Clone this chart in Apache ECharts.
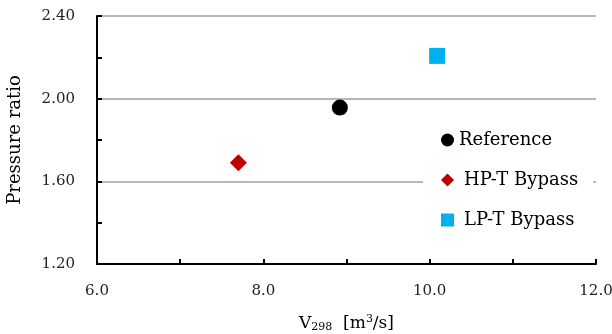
<!DOCTYPE html>
<html>
<head>
<meta charset="utf-8">
<script src="https://cdn.jsdelivr.net/npm/echarts@6/dist/echarts.min.js"></script>
<style>
  html, body {margin: 0; padding: 0; background: #fff;}
  #chart {width: 612px; height: 334px;}
</style>
</head>
<body>
<div id="chart"></div>
<script>
  const seriesNames = ['Reference', 'HP-T Bypass', 'LP-T Bypass'];
  const flowValues = [8.92, 7.70, 10.09];
  const pressureValues = [1.957, 1.69, 2.207];
  const xTicks = [6.0, 8.0, 10.0, 12.0];
  const yTicks = [1.2, 1.6, 2.0, 2.4];

  const symbols = ['circle', 'diamond', 'rect'];
  const colors = ['#000000', '#c00000', '#00b0f0'];
  const sizes = [16, 17, 16];
  const font = '"DejaVu Serif", "Liberation Serif", serif';

  const chart = echarts.init(document.getElementById('chart'));
  chart.setOption({
    animation: false,
    grid: {left: 97, right: 16, top: 16, bottom: 70, outerBoundsMode: 'none', containLabel: false},
    legend: {
      orient: 'vertical',
      left: 423,
      top: 125,
      itemGap: 22,
      itemWidth: 13,
      itemHeight: 13,
      z: 10,
      backgroundColor: '#fff',
      padding: [6, 15, 6, 18],
      textStyle: {fontFamily: font, fontSize: 18, color: '#000'},
      data: seriesNames.map((n, i) => ({
        name: n,
        icon: symbols[i],
        textStyle: {padding: [0, 0, 0, i === 0 ? 0 : 5]}
      }))
    },
    xAxis: {
      type: 'value',
      min: xTicks[0],
      max: xTicks[xTicks.length - 1],
      interval: 2,
      name: 'V{sub|298}  [m{sup|3}/s]',
      nameLocation: 'middle',
      nameGap: 50,
      nameTextStyle: {
        fontFamily: font, fontSize: 17, color: '#000',
        rich: {
          sub: {fontFamily: font, fontSize: 11, verticalAlign: 'bottom', padding: [8, 0, 0, 0]},
          sup: {fontFamily: font, fontSize: 11, verticalAlign: 'top', padding: [0, 0, 8, 0]}
        }
      },
      axisLine: {lineStyle: {color: '#000', width: 2}},
      axisTick: {inside: true, length: 5, lineStyle: {color: '#000', width: 2}},
      minorTick: {show: true, splitNumber: 2, length: 5, lineStyle: {color: '#000', width: 2}},
      axisLabel: {
        margin: 20, fontFamily: font, fontSize: 15, color: '#222',
        formatter: v => v.toFixed(1)
      },
      splitLine: {show: false}
    },
    yAxis: {
      type: 'value',
      min: yTicks[0],
      max: yTicks[yTicks.length - 1],
      interval: 0.4,
      name: 'Pressure ratio',
      nameLocation: 'middle',
      nameGap: 73,
      nameTextStyle: {fontFamily: font, fontSize: 18, color: '#000'},
      axisLine: {show: true, lineStyle: {color: '#000', width: 2}},
      axisTick: {show: true, inside: true, length: 5, lineStyle: {color: '#000', width: 2}},
      minorTick: {show: true, splitNumber: 2, length: 5, lineStyle: {color: '#000', width: 2}},
      axisLabel: {
        margin: 22, fontFamily: font, fontSize: 15, color: '#222',
        formatter: v => v.toFixed(2)
      },
      splitLine: {show: true, lineStyle: {color: '#a0a0a0', width: 1.5}}
    },
    series: seriesNames.map((n, i) => ({
      name: n,
      type: 'scatter',
      symbol: symbols[i],
      symbolSize: sizes[i],
      itemStyle: {color: colors[i], opacity: 1},
      data: [[flowValues[i], pressureValues[i]]]
    }))
  });
</script>
</body>
</html>
